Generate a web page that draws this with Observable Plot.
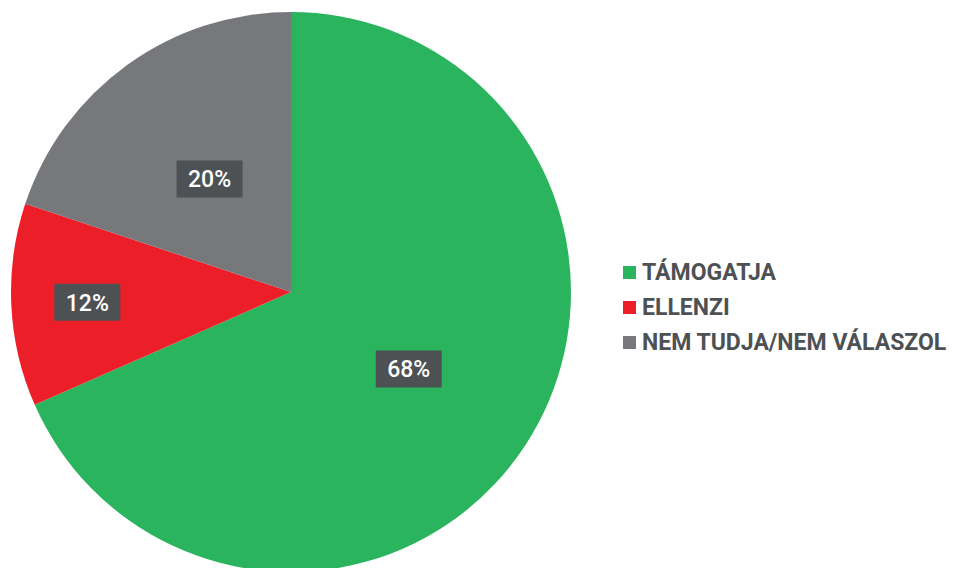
<!DOCTYPE html>
<html>
<head>
<meta charset="utf-8">
<script src="https://cdn.jsdelivr.net/npm/d3@7"></script>
<script src="https://cdn.jsdelivr.net/npm/@observablehq/plot@0.6"></script>
<style>
  html, body { margin: 0; padding: 0; background: #fff; }
  #wrap { position: relative; width: 956px; height: 568px; overflow: hidden; }
  #legend { position: absolute; left: 623px; top: 255px; font-family: Roboto, sans-serif; font-weight: 700; font-size: 23px; color: #4d5154; }
  .row { display: flex; align-items: center; height: 35px; white-space: nowrap; }
  .sw { width: 13px; height: 13px; margin-right: 6px; flex: none; }
</style>
</head>
<body>
<div id="wrap"></div>
<script>
const categories = ["TÁMOGATJA", "ELLENZI", "NEM TUDJA/NEM VÁLASZOL"];
const values = [68.4, 11.7, 19.9];
const labels = ["68%", "12%", "20%"];
const colors = ["#2ab45e", "#ec1f28", "#76787b"];

// label placement (fraction of radius), style only
const labelRadius = {"TÁMOGATJA": 0.5, "ELLENZI": 0.73, "NEM TUDJA/NEM VÁLASZOL": 0.5};

const data = categories.map((c, i) => ({category: c, value: values[i], label: labels[i], color: colors[i]}));
const arcs = d3.pie().sort(null).value(d => d.value).startAngle(0).endAngle(2 * Math.PI)(data);
const labelData = arcs.map(a => {
  const mid = (a.startAngle + a.endAngle) / 2;
  const r = labelRadius[a.data.category];
  return {x: r * Math.sin(mid), y: r * Math.cos(mid), label: a.data.label};
});

const boxSymbol = {draw(ctx) { ctx.rect(-33, -18.5, 66, 37); }};

function pieMark(index, scales) {
  const cx = scales.x(0), cy = scales.y(0);
  const R = scales.x(1) - scales.x(0);
  const arc = d3.arc().innerRadius(0).outerRadius(R);
  const g = d3.create("svg:g").attr("transform", `translate(${cx},${cy})`);
  g.selectAll("path").data(arcs).join("path")
    .attr("d", arc)
    .attr("fill", d => d.data.color);
  return g.node();
}

const chart = Plot.plot({
  width: 956,
  height: 568,
  margin: 0,
  x: {domain: [-1, 1], range: [11, 571], axis: null},
  y: {domain: [-1, 1], range: [572, 12], axis: null},
  marks: [
    pieMark,
    Plot.dot(labelData, {x: "x", y: "y", symbol: boxSymbol, fill: "#4d5154", stroke: "none"}),
    Plot.text(labelData, {x: "x", y: "y", text: "label", fill: "white", fontSize: 23, fontWeight: 500, fontFamily: "Roboto, sans-serif", dy: 1})
  ]
});
chart.style.overflow = "visible";

const wrap = document.getElementById("wrap");
wrap.appendChild(chart);

const legend = document.createElement("div");
legend.id = "legend";
data.forEach(d => {
  const row = document.createElement("div");
  row.className = "row";
  const sw = document.createElement("span");
  sw.className = "sw";
  sw.style.background = d.color;
  const t = document.createElement("span");
  t.textContent = d.category;
  row.appendChild(sw);
  row.appendChild(t);
  legend.appendChild(row);
});
wrap.appendChild(legend);
</script>
</body>
</html>
